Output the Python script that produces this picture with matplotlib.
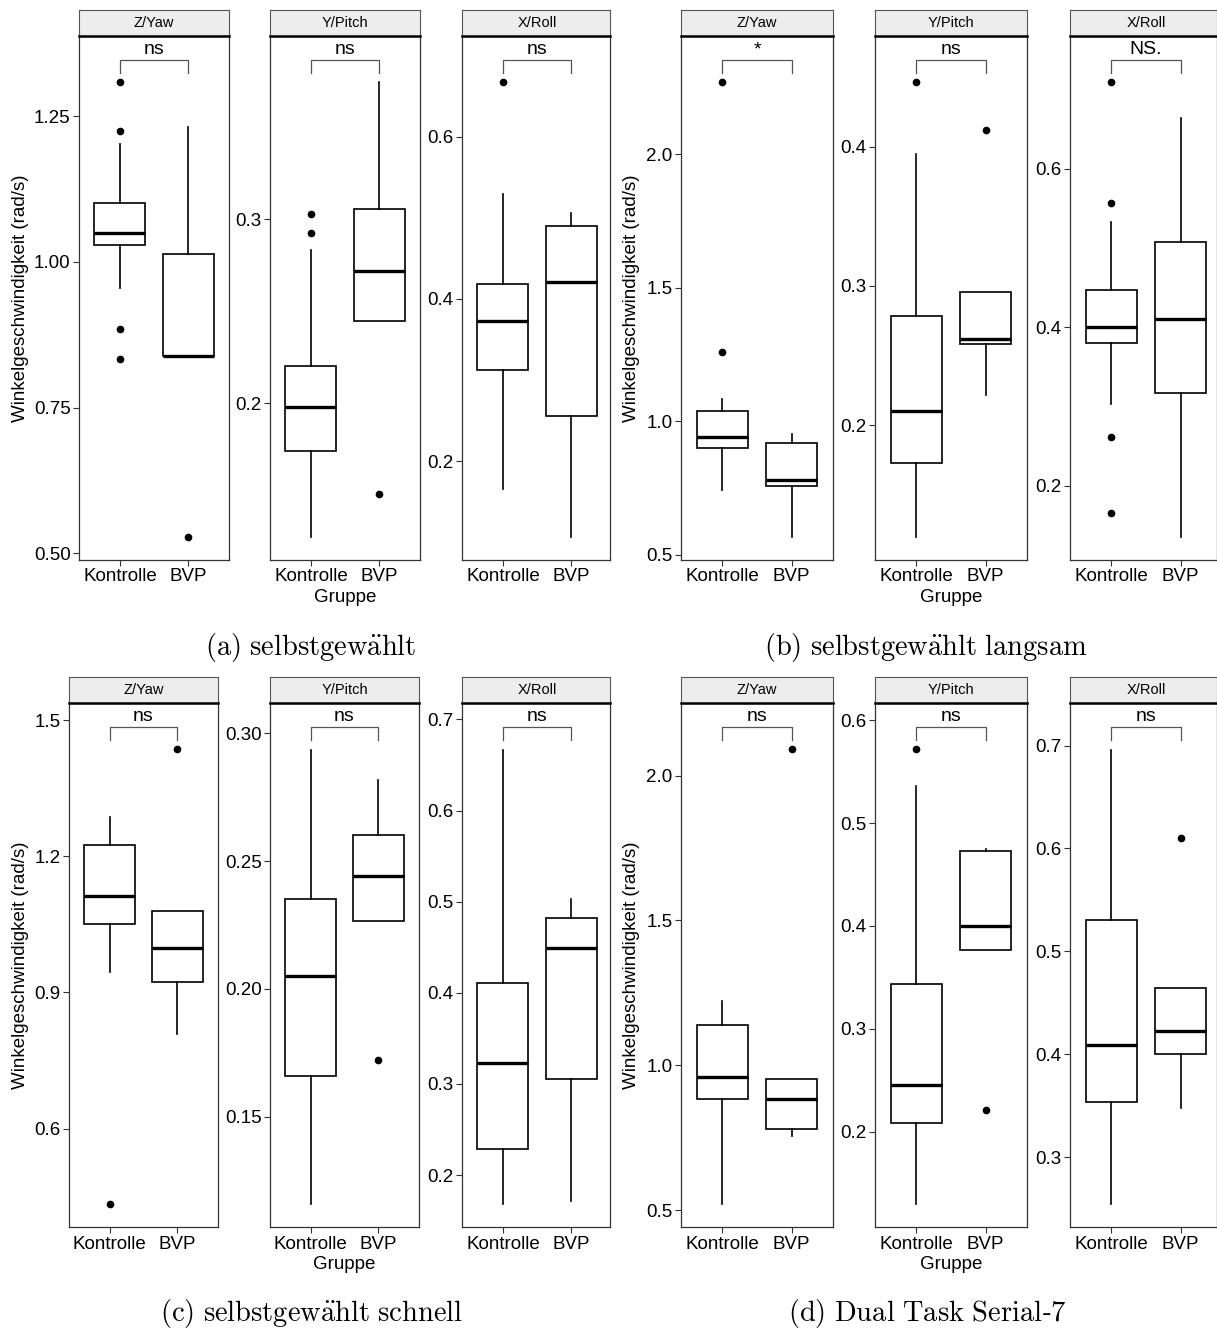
import matplotlib
matplotlib.use("Agg")
import matplotlib.pyplot as plt
import matplotlib.transforms as mtransforms

plt.rcParams["font.family"] = ["Liberation Sans", "DejaVu Sans"]
plt.rcParams["mathtext.fontset"] = "cm"

W, H = 1217, 1329

groups = ["Kontrolle", "BVP"]
facets = ["Z/Yaw", "Y/Pitch", "X/Roll"]
captions = [
    r"$\mathrm{(a)\ selbstgew\ddot{a}hlt}$",
    r"$\mathrm{(b)\ selbstgew\ddot{a}hlt\ langsam}$",
    r"$\mathrm{(c)\ selbstgew\ddot{a}hlt\ schnell}$",
    r"$\mathrm{(d)\ Dual\ Task\ Serial}$-$\mathrm{7}$",
]
signif = [
    ["ns", "ns", "ns"],
    ["*", "ns", "NS."],
    ["ns", "ns", "ns"],
    ["ns", "ns", "ns"],
]

# box statistics [panel][facet][group]
q1 = [
    [[1.029, 0.838], [0.1738, 0.2445], [0.3128, 0.2558]],
    [[0.899, 0.757], [0.173, 0.258], [0.3795, 0.3166]],
    [[1.0505, 0.9226], [0.166, 0.2265], [0.2287, 0.3054]],
    [[0.882, 0.779], [0.2083, 0.3763], [0.354, 0.40]],
]
med = [
    [[1.0495, 0.838], [0.1978, 0.2718], [0.3722, 0.4205]],
    [[0.942, 0.779], [0.2102, 0.2619], [0.40, 0.4105]],
    [[1.1125, 0.9987], [0.2052, 0.2441], [0.3232, 0.4492]],
    [[0.960, 0.885], [0.2452, 0.40], [0.4087, 0.4224]],
]
q3 = [
    [[1.102, 1.0136], [0.2204, 0.3058], [0.418, 0.490]],
    [[1.037, 0.919], [0.2784, 0.2955], [0.4469, 0.5073]],
    [[1.2263, 1.0796], [0.235, 0.2602], [0.4108, 0.4815]],
    [[1.1385, 0.953], [0.344, 0.4726], [0.5302, 0.4647]],
]
whislo = [
    [[0.955, 0.838], [0.1273, 0.2445], [0.1652, 0.1067]],
    [[0.741, 0.568], [0.1199, 0.2216], [0.3031, 0.1354]],
    [[0.946, 0.8088], [0.1159, 0.2265], [0.1683, 0.172]],
    [[0.521, 0.754], [0.1299, 0.3763], [0.2545, 0.3474]],
]
whishi = [
    [[1.203, 1.231], [0.2834, 0.3746], [0.5286, 0.5052]],
    [[1.083, 0.953], [0.3949, 0.2955], [0.5323, 0.6636]],
    [[1.2875, 1.0796], [0.2936, 0.2818], [0.6669, 0.503]],
    [[1.221, 0.953], [0.5357, 0.4747], [0.696, 0.4647]],
]
fliers = [
    [[[1.309, 1.225, 0.885, 0.833], [0.529]], [[0.3028, 0.2927], [0.1505]], [[0.667], []]],
    [[[2.27, 1.261], []], [[0.4466], [0.4119]], [[0.7095, 0.5568, 0.2617, 0.1658], []]],
    [[[0.4335], [1.436]], [[], [0.1723]], [[], []]],
    [[[], [2.092]], [[0.5722], [0.2207]], [[], [0.6102]]],
]

ylims = [
    [(0.4887, 1.3886), (0.1146, 0.400), (0.078, 0.7245)],
    [(0.480, 2.445), (0.1031, 0.480), (0.106, 0.768)],
    [(0.382, 1.539), (0.1067, 0.312), (0.1425, 0.7183)],
    [(0.440, 2.252), (0.107, 0.617), (0.2317, 0.7416)],
]
yticks = [
    [[0.5, 0.75, 1.0, 1.25], [0.2, 0.3], [0.2, 0.4, 0.6]],
    [[0.5, 1.0, 1.5, 2.0], [0.2, 0.3, 0.4], [0.2, 0.4, 0.6]],
    [[0.6, 0.9, 1.2, 1.5], [0.15, 0.20, 0.25, 0.30], [0.2, 0.3, 0.4, 0.5, 0.6, 0.7]],
    [[0.5, 1.0, 1.5, 2.0], [0.2, 0.3, 0.4, 0.5, 0.6], [0.3, 0.4, 0.5, 0.6, 0.7]],
]
ytick_labels = [
    [["0.50", "0.75", "1.00", "1.25"], ["0.2", "0.3"], ["0.2", "0.4", "0.6"]],
    [["0.5", "1.0", "1.5", "2.0"], ["0.2", "0.3", "0.4"], ["0.2", "0.4", "0.6"]],
    [["0.6", "0.9", "1.2", "1.5"], ["0.15", "0.20", "0.25", "0.30"],
     ["0.2", "0.3", "0.4", "0.5", "0.6", "0.7"]],
    [["0.5", "1.0", "1.5", "2.0"], ["0.2", "0.3", "0.4", "0.5", "0.6"],
     ["0.3", "0.4", "0.5", "0.6", "0.7"]],
]

# layout in pixels
panel_x = [
    [(79, 229), (270, 420), (462, 612)],
    [(681, 833), (875, 1027), (1070, 1222)],
    [(69, 218), (270, 419), (462, 612)],
    [(681, 833), (875, 1027), (1070, 1222)],
]
panel_clip = [610, 1217, 610, 1217]
row_y = [(35.5, 560), (35.5, 560), (702.7, 1227.4), (702.7, 1227.4)]
ylab_x = [21, 631, 21, 631]
cap_x = [311, 926, 312, 927]
cap_y = [647, 647, 1313, 1313]

fig = plt.figure(figsize=(W / 100, H / 100), dpi=100)


def px_axes(x0, x1, y0, y1):
    return fig.add_axes([x0 / W, 1 - y1 / H, (x1 - x0) / W, (y1 - y0) / H])


border = "#333333"
for p in range(4):
    ytop, ybot = row_y[p]
    for f in range(3):
        x0, x1 = panel_x[p][f]
        xr = min(x1, panel_clip[p])
        ax = px_axes(x0, xr, ytop, ybot)
        stats = []
        for g in range(2):
            stats.append(dict(med=med[p][f][g], q1=q1[p][f][g], q3=q3[p][f][g],
                              whislo=whislo[p][f][g], whishi=whishi[p][f][g],
                              fliers=fliers[p][f][g]))
        ax.bxp(stats, positions=[1, 2], widths=0.75, showcaps=False,
               patch_artist=True,
               boxprops=dict(facecolor="white", edgecolor="black", linewidth=1.2),
               medianprops=dict(color="black", linewidth=2.4),
               whiskerprops=dict(color="black", linewidth=1.2),
               flierprops=dict(marker="o", markerfacecolor="black",
                               markeredgecolor="black", markersize=4.5))
        ax.set_xlim(0.4, 0.4 + 2.2 * (xr - x0) / (x1 - x0))
        ax.set_ylim(*ylims[p][f])
        ax.set_yticks(yticks[p][f])
        ax.set_yticklabels(ytick_labels[p][f])
        ax.set_xticks([1, 2])
        ax.set_xticklabels(groups)
        ax.tick_params(labelsize=13.5, length=4, width=0.8, color=border,
                       labelcolor="black", pad=2)
        for s in ax.spines.values():
            s.set_color(border)
            s.set_linewidth(0.9)

        # significance bracket
        tr = mtransforms.blended_transform_factory(ax.transData, ax.transAxes)
        ax.plot([1, 1, 2, 2], [0.928, 0.954, 0.954, 0.928], color="#555555",
                lw=0.9, transform=tr, clip_on=False)
        ax.text(1.5, 0.9646, signif[p][f], transform=tr, ha="center",
                va="baseline", fontsize=14)

        # strip
        sx = px_axes(x0, xr, ytop - 25.5, ytop)
        sx.set_facecolor("#EDEDED")
        sx.set_xticks([])
        sx.set_yticks([])
        for s in sx.spines.values():
            s.set_color("#555555")
            s.set_linewidth(0.8)
        sx.spines["bottom"].set_color("black")
        sx.spines["bottom"].set_linewidth(1.8)
        fig.text((x0 + x1) / 2 / W, 1 - (ytop - 12.7) / H, facets[f],
                 ha="center", va="center", fontsize=10.5)

    # axis titles
    fig.text(ylab_x[p] / W, 1 - (ytop + ybot) / 2 / H,
             "Winkelgeschwindigkeit (rad/s)", rotation=90,
             ha="center", va="center", fontsize=13.5)
    mx0, mx1 = panel_x[p][1]
    fig.text((mx0 + mx1) / 2 / W, 1 - (ybot + 37) / H, "Gruppe",
             ha="center", va="center", fontsize=13.5)
    fig.text(cap_x[p] / W, 1 - cap_y[p] / H, captions[p],
             ha="center", va="center", fontsize=20.5)

fig.savefig("out.png", dpi=100)
